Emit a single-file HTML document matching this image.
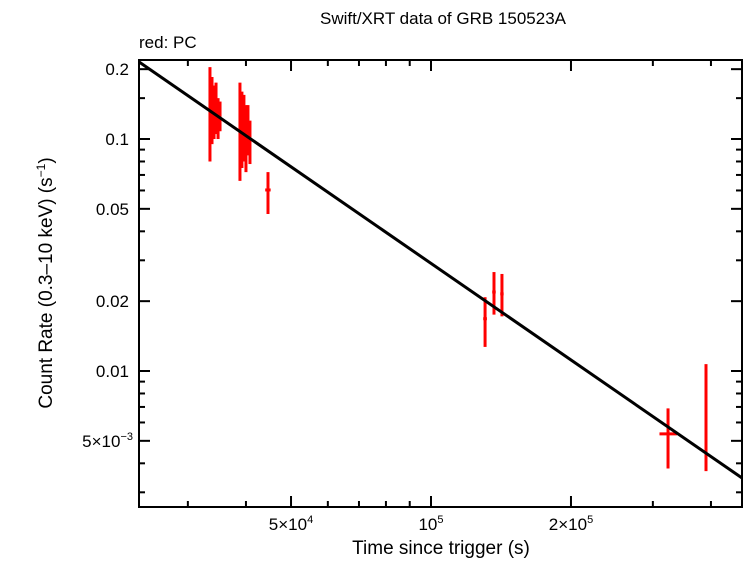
<!DOCTYPE html>
<html><head><meta charset="utf-8"><style>
body{margin:0;background:#fff}
svg text{font-family:"Liberation Sans",sans-serif;fill:#000}
</style></head><body>
<svg id="c" width="746" height="558" xmlns="http://www.w3.org/2000/svg">
<text x="443" y="24" font-size="17" text-anchor="middle">Swift/XRT data of GRB 150523A</text>
<text x="139" y="48" font-size="17">red: PC</text>
<text x="441" y="554" font-size="19" text-anchor="middle">Time since trigger (s)</text>
<text transform="translate(52,283) rotate(-90)" font-size="19" text-anchor="middle">Count Rate (0.3–10 keV) (s<tspan font-size="12" dy="-7">−1</tspan><tspan dy="7">)</tspan></text>
<g id="ticks"></g>
<g id="marks"></g>
<rect x="139" y="60" width="603" height="447" fill="none" stroke="#000" stroke-width="2"/>
</svg>
<script>
const times=[33470,33810,34150,34490,34840,35180,38830,39210,39600,40000,40400,40800,44610,130700,136600,142100,323400,390300];
const tLo=[33300,33640,33980,34320,34670,35010,38640,39020,39410,39800,40200,40600,44000,129500,135400,140900,310000,388000];
const tHi=[33640,33980,34320,34670,35010,35350,39020,39410,39800,40200,40600,41000,45200,131900,137800,143300,338000,392600];
const rates=[0.150,0.140,0.125,0.135,0.120,0.128,0.130,0.110,0.118,0.100,0.108,0.095,0.0603,0.0168,0.0219,0.0215,0.00536,0.0046];
const rLo=[0.080,0.095,0.100,0.105,0.100,0.108,0.066,0.075,0.080,0.072,0.085,0.078,0.0475,0.0127,0.0175,0.0172,0.0038,0.0037];
const rHi=[0.204,0.185,0.170,0.175,0.150,0.145,0.175,0.160,0.155,0.140,0.140,0.120,0.072,0.0208,0.0267,0.0262,0.0069,0.0107];
const modelNorm=0.0291, modelIndex=1.383;
const xMajor=[5e4,1e5,2e5];
const xMajorLabels=[["5×10","4"],["10","5"],["2×10","5"]];
const xMinor=[3e4,4e4,6e4,7e4,8e4,9e4,3e5,4e5];
const yMajor=[0.2,0.1,0.05,0.02,0.01,0.005];
const yMajorLabels=["0.2","0.1","0.05","0.02","0.01","5×10"];
const yMinor=[0.15,0.09,0.08,0.07,0.06,0.04,0.03,0.009,0.008,0.007,0.006,0.004,0.003];
const X=t=>431+465*Math.log10(t/1e5);
const Y=r=>139-232*Math.log10(r/0.1);
const NS="http://www.w3.org/2000/svg";
function mk(tag,attrs,parent){const e=document.createElementNS(NS,tag);for(const k in attrs)e.setAttribute(k,attrs[k]);parent.appendChild(e);return e;}
const tk=document.getElementById('ticks'),mg=document.getElementById('marks');
xMajor.forEach((v,i)=>{const x=X(v);
 const a=mk('line',{x1:x,x2:x,y1:507,y2:496,stroke:'#000','stroke-width':2},tk);
 
 const b=mk('line',{x1:x,x2:x,y1:60,y2:71,stroke:'#000','stroke-width':2},tk);
 
 const t=mk('text',{x:x,y:530,'font-size':17,'text-anchor':'middle'},tk);
 
 t.textContent=xMajorLabels[i][0];const s=mk('tspan',{'font-size':11,dy:-7},t);s.textContent=xMajorLabels[i][1];});
xMinor.forEach(v=>{const x=X(v);
 const a=mk('line',{x1:x,x2:x,y1:507,y2:501,stroke:'#000','stroke-width':2},tk);
 
 const b=mk('line',{x1:x,x2:x,y1:60,y2:66,stroke:'#000','stroke-width':2},tk);
 });
yMajor.forEach((v,i)=>{const y=Y(v);
 const a=mk('line',{x1:139,x2:150,y1:y,y2:y,stroke:'#000','stroke-width':2},tk);
 
 const b=mk('line',{x1:742,x2:731,y1:y,y2:y,stroke:'#000','stroke-width':2},tk);
 
 const t=mk('text',{x:i==5?133:129,y:y+6,'font-size':17,'text-anchor':'end'},tk);
 
 t.textContent=yMajorLabels[i];if(i==5){const s=mk('tspan',{'font-size':11,dy:-7},t);s.textContent="−3";}});
yMinor.forEach(v=>{const y=Y(v);
 const a=mk('line',{x1:139,x2:145,y1:y,y2:y,stroke:'#000','stroke-width':2},tk);
 
 const b=mk('line',{x1:742,x2:736,y1:y,y2:y,stroke:'#000','stroke-width':2},tk);
 });
times.forEach((t,i)=>{const x=X(t),y=Y(rates[i]);
 const v=mk('line',{x1:x,x2:x,y1:Y(rHi[i]),y2:Y(rLo[i]),stroke:'#f00','stroke-width':3},mg);
 
 const h=mk('line',{x1:X(tLo[i]),x2:X(tHi[i]),y1:y,y2:y,stroke:'#f00','stroke-width':3},mg);
 });
const t0=23550,t1=467000,m=t=>modelNorm*Math.pow(t/1e5,-modelIndex);
const ln=mk('line',{x1:X(t0),y1:Y(m(t0)),x2:X(t1),y2:Y(m(t1)),stroke:'#000','stroke-width':3},mg);

</script>
</body></html>
